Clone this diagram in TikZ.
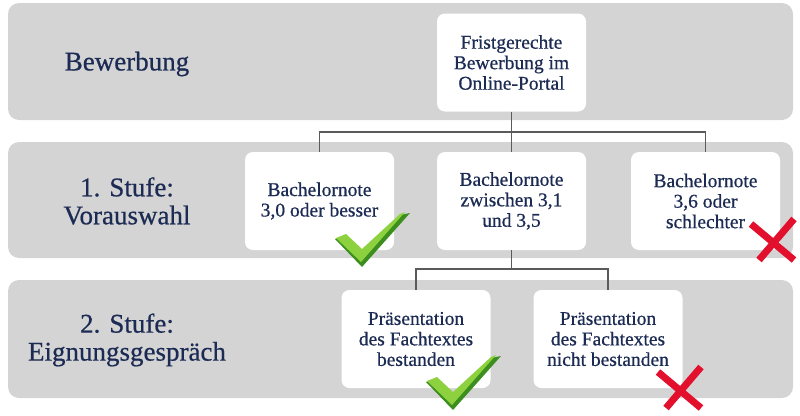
\documentclass[tikz,border=0pt]{standalone}
\usepackage{fontspec}
\setmainfont{Liberation Serif}[FakeBold=0.6]
\definecolor{bandgray}{HTML}{D4D4D4}
\definecolor{navyblue}{HTML}{1C2B53}
\definecolor{linkgray}{HTML}{5A5A5A}
\definecolor{checkdark}{HTML}{3C8F1E}
\definecolor{checklight}{HTML}{8DD23E}
\definecolor{crossred}{HTML}{E2102C}
\begin{document}
\begin{tikzpicture}[x=1pt, y=-1pt,
	band/.style={fill=bandgray, rounded corners=11pt, minimum width=785pt, inner sep=0pt},
	stage/.style={text=navyblue, align=center, font=\fontsize{27}{28}\selectfont},
	stepbox/.style={fill=white, rounded corners=8pt, minimum width=149pt,
		minimum height=98pt, inner sep=0pt, align=center, text=navyblue,
		font=\fontsize{19.5}{20.5}\selectfont},
	link/.style={draw=linkgray, line width=1.1pt},
	checkmark/.pic={
		\fill[checkdark] (0,2) -- (48,-52) -- (38,-50) -- (1,-14) -- (-16,-30) -- (-27,-26) -- cycle;
		\fill[checklight] (-1,-3) -- (43,-53) -- (38,-51) -- (0,-16) -- (-16,-31) -- (-26,-27) -- cycle;
	},
	crossmark/.pic={
		\draw[crossred, line width=7pt] (-22,-16) -- (21,20);
		\draw[crossred, line width=7pt] (21,-21) -- (-14,20);
	}]
	\useasboundingbox (0,0) rectangle (800,415);

	\node[band, minimum height=117pt] (bandA) at (400.5,61.5) {};
	\node[band, minimum height=116pt] (bandB) at (400.5,200) {};
	\node[band, minimum height=118pt] (bandC) at (400.5,339) {};

	\node[stage] (bewerbung) at (127,64) {Bewerbung};
	\node[stage] (stufeA) at (127,201) {1. Stufe:\\Vorauswahl};
	\node[stage] (stufeB) at (127,340) {2. Stufe:\\Eignungsgespräch};

	\node[stepbox] (portal) at (511.5,62.5) {Fristgerechte\\Bewerbung im\\Online-Portal};

	\node[stepbox] (noteA) at (319.5,201) {Bachelornote\\3,0 oder besser};
	\node[stepbox] (noteB) at (511.5,201) {Bachelornote\\zwischen 3,1\\und 3,5};
	\node[stepbox] (noteC) at (705.5,201) {Bachelornote\\3,6 oder\\schlechter};

	\node[stepbox] (presA) at (416,339) {Präsentation\\des Fachtextes\\bestanden};
	\node[stepbox] (presB) at (608,339) {Präsentation\\des Fachtextes\\nicht bestanden};

	\coordinate (hubA) at (511.5,132);
	\coordinate (hubB) at (511.5,269);

	\draw[link] (portal) -- (noteB);
	\draw[link] (noteA.north) |- (hubA) -| (noteC.north);
	\draw[link] (noteB) -- (hubB);
	\draw[link] (presA.north) |- (hubB) -| (presB.north);

	\pic at (362,265) {checkmark};
	\pic at (453,408) {checkmark};
	\pic at (773,240) {crossmark};
	\pic at (680,388) {crossmark};
\end{tikzpicture}
\end{document}
